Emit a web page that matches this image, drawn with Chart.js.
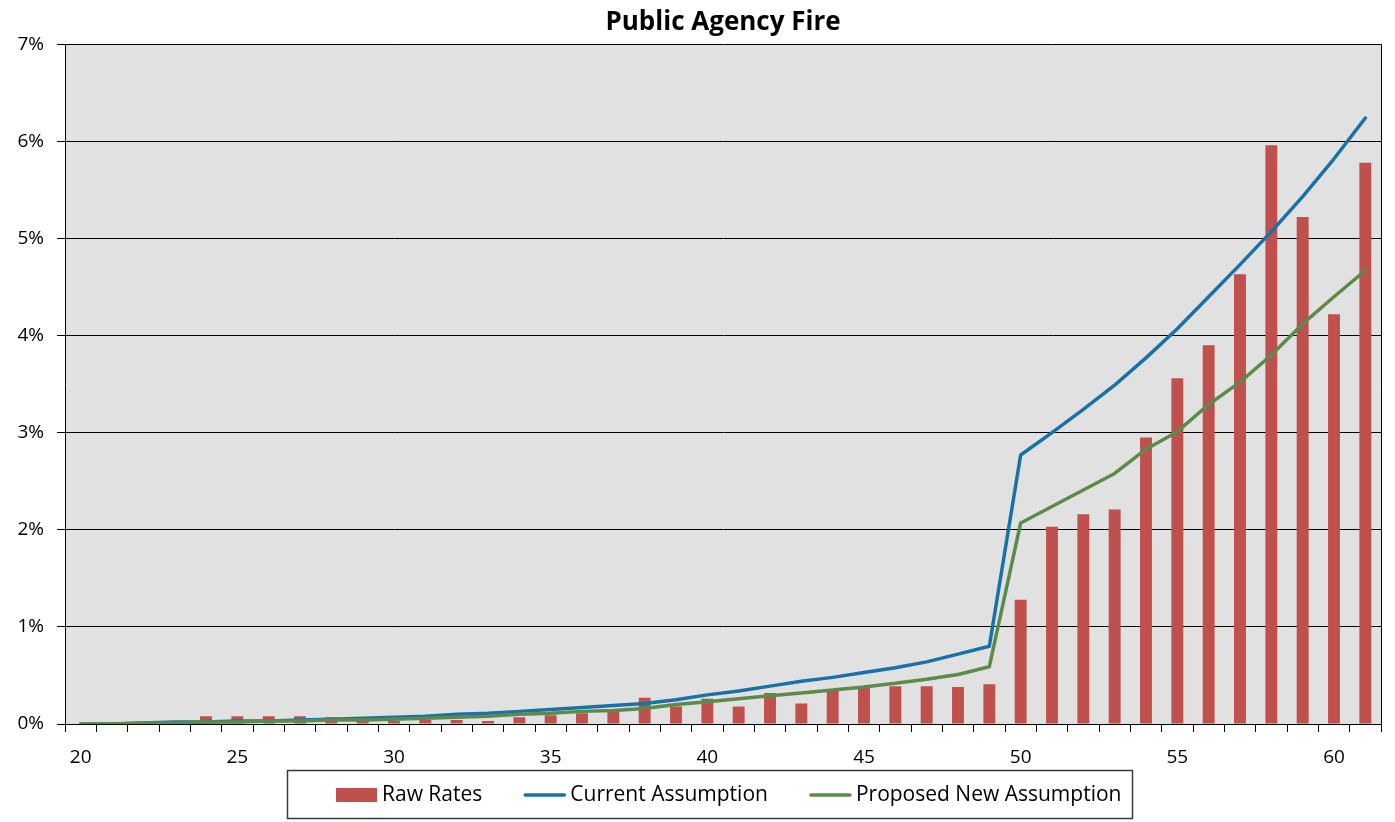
<!DOCTYPE html>
<html><head><meta charset="utf-8">
<script src="https://cdn.jsdelivr.net/npm/chart.js@4"></script>
<style>html,body{margin:0;padding:0;background:#fff;overflow:hidden}</style>
</head><body>
<canvas id="c" width="1395" height="822" style="display:block;width:1395px;height:822px"></canvas>
<script>
const ages = ['20','21','22','23','24','25','26','27','28','29','30','31','32','33','34','35','36','37','38','39','40','41','42','43','44','45','46','47','48','49','50','51','52','53','54','55','56','57','58','59','60','61'];
const rawRates = [0,0,0,0,0.08,0.08,0.08,0.08,0.07,0.04,0.03,0.04,0.04,0.03,0.07,0.09,0.11,0.13,0.27,0.18,0.26,0.18,0.32,0.21,0.36,0.38,0.39,0.39,0.38,0.41,1.28,2.03,2.16,2.21,2.95,3.56,3.90,4.63,5.96,5.22,4.22,5.78];
const currentAssumption = [0.00,0.00,0.01,0.02,0.02,0.03,0.03,0.04,0.05,0.06,0.07,0.08,0.10,0.11,0.13,0.15,0.17,0.19,0.21,0.25,0.30,0.34,0.39,0.44,0.48,0.53,0.58,0.64,0.72,0.80,2.77,3.00,3.24,3.49,3.77,4.07,4.40,4.73,5.07,5.43,5.82,6.24];
const proposedAssumption = [0.00,0.00,0.01,0.01,0.02,0.02,0.03,0.03,0.04,0.04,0.05,0.06,0.07,0.08,0.10,0.11,0.13,0.14,0.16,0.20,0.23,0.26,0.29,0.32,0.35,0.38,0.42,0.46,0.51,0.59,2.07,2.24,2.41,2.58,2.83,3.01,3.29,3.52,3.80,4.12,4.40,4.67];
const yTickLabels = ['0%','1%','2%','3%','4%','5%','6%','7%'];
const xLabelAges = ['20','25','30','35','40','45','50','55','60'];

const FONT = '"Open Sans", Lato, sans-serif';

const plotDecor = {
  id: 'plotDecor',
  beforeDraw(chart) {
    const {ctx, chartArea: a} = chart;
    ctx.save();
    ctx.fillStyle = '#e1e1e1';
    ctx.fillRect(a.left, a.top, a.right - a.left, a.bottom - a.top);
    ctx.restore();
  },
  afterDraw(chart) {
    const {ctx, chartArea: a} = chart;
    ctx.save();
    ctx.strokeStyle = '#000';
    ctx.lineWidth = 1;
    ctx.beginPath();
    ctx.moveTo(Math.round(a.right) + 0.5, a.top);
    ctx.lineTo(Math.round(a.right) + 0.5, a.bottom);
    ctx.stroke();

    // legend box
    ctx.font = '21px ' + FONT;
    const ds = chart.data.datasets;
    const swatchW = 41, gapText = 5, gapItem = 42;
    const widths = ds.map(d => ctx.measureText(d.label).width);
    let W = 0;
    ds.forEach((d, i) => { W += swatchW + gapText + widths[i] + (i < ds.length - 1 ? gapItem : 0); });
    const boxW = W + 60, boxH = 48;
    const boxL = Math.round(709.5 - boxW / 2);
    const boxT = 770;
    const cy = boxT + boxH / 2 + 1;
    ctx.strokeStyle = '#3a3a3a';
    ctx.lineWidth = 1.5;
    ctx.strokeRect(boxL + 0.5, boxT + 0.5, Math.round(boxW), boxH);
    let x = boxL + 49;
    ctx.textBaseline = 'middle';
    ctx.fillStyle = '#000';
    ds.forEach((d, i) => {
      if (d.type === 'bar') {
        ctx.fillStyle = d.backgroundColor;
        ctx.fillRect(x, cy - 7, swatchW, 14);
      } else {
        ctx.strokeStyle = d.borderColor;
        ctx.lineWidth = 3.5;
        ctx.lineCap = 'round';
        ctx.beginPath();
        ctx.moveTo(x + 1, cy);
        ctx.lineTo(x + swatchW - 1, cy);
        ctx.stroke();
      }
      x += swatchW + gapText;
      ctx.fillStyle = '#000';
      ctx.fillText(d.label, x, cy);
      x += widths[i] + gapItem;
    });
    ctx.restore();
  }
};

new Chart(document.getElementById('c'), {
  data: {
    labels: ages,
    datasets: [
      { type: 'bar', label: 'Raw Rates', data: rawRates, backgroundColor: '#c0504d', borderWidth: 0,
        categoryPercentage: 1, barPercentage: 0.38, order: 3 },
      { type: 'line', label: 'Current Assumption', data: currentAssumption, borderColor: '#1872a8', backgroundColor: '#1872a8',
        borderWidth: 3.5, pointRadius: 0, tension: 0, order: 2, borderJoinStyle: 'round', borderCapStyle: 'round' },
      { type: 'line', label: 'Proposed New Assumption', data: proposedAssumption, borderColor: '#5b8a4b', backgroundColor: '#5b8a4b',
        borderWidth: 3.5, pointRadius: 0, tension: 0, order: 1, borderJoinStyle: 'round', borderCapStyle: 'round' }
    ]
  },
  options: {
    responsive: false,
    animation: false,
    devicePixelRatio: 1,
    layout: { padding: { left: 0, right: 14, top: 0, bottom: 53 } },
    plugins: {
      tooltip: { enabled: false },
      legend: { display: false },
      title: { display: true, fullSize: false, text: 'Public Agency Fire', color: '#000',
        font: { family: FONT, size: 26, weight: 'bold' }, padding: { top: 7, bottom: 6 } }
    },
    scales: {
      x: {
        type: 'category',
        offset: true,
        grid: { offset: true, drawOnChartArea: false, drawTicks: true, tickLength: 8, color: '#000', lineWidth: 1 },
        border: { color: '#000', width: 1 },
        ticks: {
          autoSkip: false, maxRotation: 0, color: '#000', padding: 14,
          font: { family: FONT, size: 19 },
          callback: function(v, i) { const l = this.getLabelForValue(v); return xLabelAges.includes(l) ? l : ''; }
        },
        afterFit: s => { s.height = 45; }
      },
      y: {
        type: 'linear', min: 0, max: 7,
        grid: { color: '#000', lineWidth: 1, tickLength: 8, drawTicks: true },
        border: { color: '#000', width: 1 },
        ticks: { stepSize: 1, color: '#000', padding: 13, font: { family: FONT, size: 19 },
          callback: v => yTickLabels[Math.round(v)] },
        afterFit: s => { s.width = 65; }
      }
    }
  },
  plugins: [plotDecor]
});
</script>
</body></html>
